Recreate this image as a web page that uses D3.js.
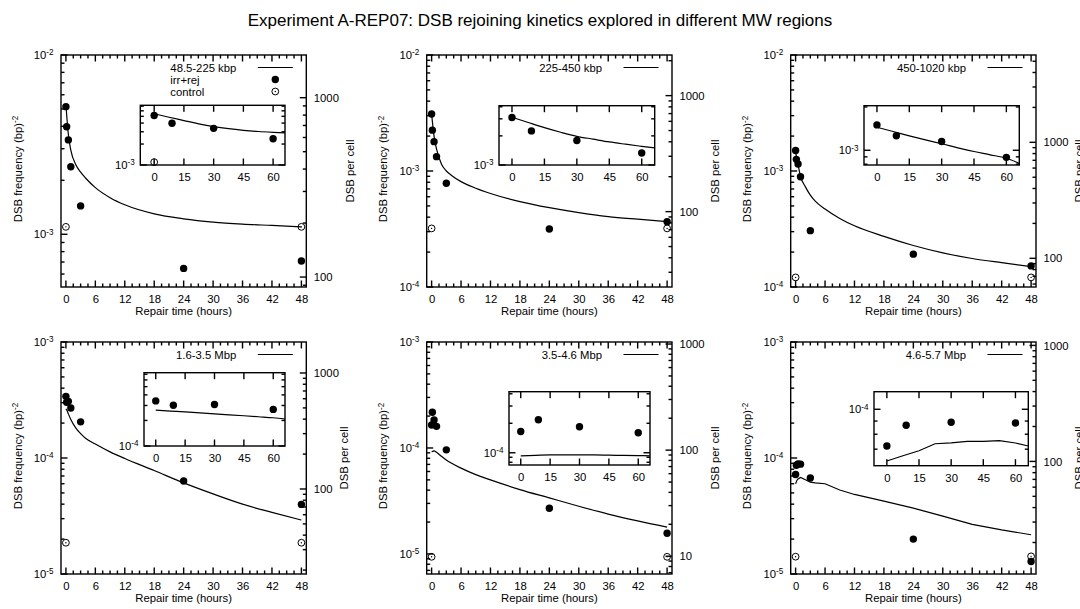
<!DOCTYPE html>
<html>
<head>
<meta charset="utf-8">
<script src="https://cdn.jsdelivr.net/npm/d3@7"></script>
<style>
  body { margin: 0; background: #fff; }
  svg { display: block; font-family: "Liberation Sans", Arial, Helvetica, sans-serif; }
</style>
</head>
<body>
<svg id="chart" width="1080" height="609"></svg>
<script>
// ---- values --------------------------------------------------------------
const chartTitle = "Experiment A-REP07: DSB rejoining kinetics explored in different MW regions";
const regionLabels = ["48.5-225 kbp", "225-450 kbp", "450-1020 kbp", "1.6-3.5 Mbp", "3.5-4.6 Mbp", "4.6-5.7 Mbp"];

// repair times of the irradiated samples (hours); the first four fall in the first hour
const sampleHours = [0, 0.15, 0.5, 1, 3, 24, 48];
const controlHours = [0, 48];
const mainXTicks = [0, 6, 12, 18, 24, 30, 36, 42, 48];
const insetXTicks = [0, 15, 30, 45, 60];

// DSB frequency (bp)^-2, irradiated + rejoining, one row per MW region
const irrRej = [
  [5.15e-3, 3.98e-3, 3.36e-3, 2.38e-3, 1.44e-3, 6.45e-4, 7.1e-4],
  [3.10e-3, 2.25e-3, 1.79e-3, 1.33e-3, 7.83e-4, 3.16e-4, 3.66e-4],
  [1.50e-3, 1.26e-3, 1.15e-3, 8.93e-4, 3.06e-4, 1.92e-4, 1.52e-4],
  [3.40e-4, 3.02e-4, 3.08e-4, 2.70e-4, 2.05e-4, 6.33e-5, 3.98e-5],
  [1.65e-4, 2.17e-4, 1.84e-4, 1.60e-4, 9.6e-5, 2.7e-5, 1.57e-5],
  [7.2e-5, 8.67e-5, 8.9e-5, 8.85e-5, 6.73e-5, 2.0e-5, 1.28e-5]
];
// unirradiated controls at 0 h and 48 h
const control = [
  [1.10e-3, 1.10e-3],
  [3.2e-4, 3.2e-4],
  [1.21e-4, 1.21e-4],
  [1.86e-5, 1.86e-5],
  [9.4e-6, 9.4e-6],
  [1.41e-5, 1.42e-5]
];

// fitted rejoining curves over 48 h
const fitHours = [0, 0.25, 0.5, 1, 2, 3, 4, 6, 9, 12, 18, 24, 30, 36, 42, 48];
const fitValues = [
  [5.3e-3, 4.3e-3, 3.6e-3, 2.95e-3, 2.45e-3, 2.22e-3, 2.06e-3, 1.82e-3, 1.6e-3, 1.46e-3, 1.3e-3, 1.22e-3, 1.17e-3, 1.14e-3, 1.12e-3, 1.10e-3],
  [3.1e-3, 2.45e-3, 2.0e-3, 1.55e-3, 1.15e-3, 1.0e-3, 9.2e-4, 8.1e-4, 7.1e-4, 6.4e-4, 5.45e-4, 4.83e-4, 4.38e-4, 4.05e-4, 3.84e-4, 3.66e-4],
  [1.45e-3, 1.28e-3, 1.13e-3, 9.0e-4, 7.3e-4, 6.2e-4, 5.5e-4, 4.7e-4, 3.9e-4, 3.37e-4, 2.73e-4, 2.28e-4, 1.97e-4, 1.76e-4, 1.62e-4, 1.50e-4],
  [2.65e-4, 2.55e-4, 2.4e-4, 2.15e-4, 1.82e-4, 1.62e-4, 1.48e-4, 1.32e-4, 1.13e-4, 9.9e-5, 7.8e-5, 6.1e-5, 4.9e-5, 4.0e-5, 3.4e-5, 2.92e-5],
  [9.2e-5, 9.3e-5, 9.4e-5, 9.1e-5, 8.35e-5, 7.7e-5, 7.2e-5, 6.45e-5, 5.6e-5, 5.0e-5, 4.05e-5, 3.38e-5, 2.82e-5, 2.38e-5, 2.05e-5, 1.79e-5],
  [6.0e-5, 6.4e-5, 6.6e-5, 6.8e-5, 6.5e-5, 6.2e-5, 6.1e-5, 6.0e-5, 5.3e-5, 4.85e-5, 4.25e-5, 3.7e-5, 3.15e-5, 2.68e-5, 2.4e-5, 2.18e-5]
];

// fitted curves over the first hour (minutes), shown in the insets
const insetFitMinutes = [0, 7.5, 15, 22.5, 30, 37.5, 45, 52.5, 60, 66];
const insetFitValues = [
  [5.45e-3, 4.85e-3, 4.35e-3, 3.9e-3, 3.56e-3, 3.32e-3, 3.15e-3, 3.03e-3, 2.95e-3, 2.9e-3],
  [3.12e-3, 2.75e-3, 2.43e-3, 2.18e-3, 1.98e-3, 1.85e-3, 1.73e-3, 1.64e-3, 1.56e-3, 1.50e-3],
  [1.445e-3, 1.35e-3, 1.26e-3, 1.18e-3, 1.11e-3, 1.04e-3, 9.8e-4, 9.3e-4, 8.8e-4, 8.1e-4],
  [2.65e-4, 2.58e-4, 2.52e-4, 2.45e-4, 2.39e-4, 2.33e-4, 2.27e-4, 2.21e-4, 2.15e-4, 2.08e-4],
  [9.3e-5, 9.4e-5, 9.5e-5, 9.5e-5, 9.5e-5, 9.5e-5, 9.45e-5, 9.4e-5, 9.35e-5, 9.3e-5],
  [6.3e-5, 6.6e-5, 6.9e-5, 7.35e-5, 7.4e-5, 7.5e-5, 7.5e-5, 7.55e-5, 7.4e-5, 7.2e-5]
];

// axis ranges
const mainXRange = [-1, 49];
const yRange = [[5.08e-4, 1e-2], [1e-4, 1e-2], [1e-4, 1e-2], [1e-5, 1e-3], [6.47e-6, 1e-3], [1e-5, 1e-3]];
const y2Range = [[88, 1730], [22.4, 2240], [56.6, 5660], [18.5, 1850], [6.8, 1045], [10.7, 1070]];
const insetXRange = [[-7, 66], [-6, 66], [-6, 66], [-6, 66], [-6, 66], [-6, 66]];
const insetYRange = [[1e-3, 7.2e-3], [1e-3, 4.1e-3], [7.9e-4, 2.04e-3], [1e-4, 7.3e-4], [7.5e-5, 4.2e-4], [6.04e-5, 1.17e-4]];

// ---- layout ---------------------------------------------------------------
const W = 1080, H = 609;
const colLeft = [61, 426.7, 790.7], colW = 245.3;
const rowTop = [55, 342], rowH = 232;
const insetBox = [
  [140.3, 105.3, 144.7, 59.7],
  [499, 105.7, 155.7, 59.3],
  [864, 105.7, 155.3, 59.3],
  [144, 372.7, 141, 73.3],
  [509, 391.7, 141, 73.3],
  [874, 391.7, 154.3, 74]
];
const rightLabelOffset = [44, 43.3, 43, 37.3, 43.3, 43];
const FS = 11.3;
const TICK_MAJOR = 6.5, TICK_MINOR = 3.5, TICK_W = 1.4;

const svg = d3.select("#chart");

svg.append("text")
  .attr("x", W / 2).attr("y", 25.5)
  .attr("text-anchor", "middle")
  .attr("font-size", 17)
  .attr("fill", "#000")
  .text(chartTitle);

// tick marks are collected here and drawn last, as small filled bars
const tickBars = [];

// ticks at 1..9 x 10^e inside a log domain
function logTicks(dom) {
  const out = [];
  const lo = dom[0], hi = dom[1];
  for (let e = Math.floor(Math.log10(lo)) - 1; e <= Math.ceil(Math.log10(hi)); e++) {
    for (let k = 1; k <= 9; k++) {
      const v = k * Math.pow(10, e);
      if (v >= lo * 0.9999 && v <= hi * 1.0001) out.push({ v: v, major: k === 1 });
    }
  }
  return out;
}

// tick labels through d3 axes
function axisLabels(parent, gen, transform, values, padding, fmt) {
  gen.tickValues(values).tickSize(0).tickPadding(padding).tickFormat(fmt);
  const g = parent.append("g").attr("transform", transform).call(gen);
  g.select(".domain").remove();
  g.selectAll(".tick line").remove();
  g.attr("font-size", null).attr("font-family", null).attr("fill", null);
  g.selectAll(".tick text").attr("fill", "#000").attr("font-size", FS);
  return g;
}

// inward tick marks along a frame edge
function tickMarks(scale, values, edge, pos, len) {
  values.forEach(v => {
    const c = +scale(v);
    if (!isFinite(c)) return;
    const h = TICK_W / 2;
    if (edge === "bottom") tickBars.push({ x: c - h, y: pos - len, w: TICK_W, h: len });
    else if (edge === "top") tickBars.push({ x: c - h, y: pos, w: TICK_W, h: len });
    else if (edge === "left") tickBars.push({ x: pos, y: c - h, w: len, h: TICK_W });
    else tickBars.push({ x: pos - len, y: c - h, w: len, h: TICK_W });
  });
}

// "10" with a superscript exponent
function powerLabel(textSel) {
  textSel.each(function (d) {
    const t = d3.select(this);
    const e = Math.round(Math.log10(d));
    t.text(null);
    t.append("tspan").text("10");
    t.append("tspan").attr("dy", "-0.45em").attr("font-size", "0.72em").text(String(e));
  });
}

function drawPoints(g, xs, ys, filled) {
  const pts = g.append("g");
  xs.forEach((xv, i) => {
    if (filled) {
      pts.append("circle").attr("cx", xv).attr("cy", ys[i]).attr("r", 3.7).attr("fill", "#000");
    } else {
      pts.append("circle").attr("cx", xv).attr("cy", ys[i]).attr("r", 3.4)
        .attr("fill", "none").attr("stroke", "#000").attr("stroke-width", 1);
      pts.append("circle").attr("cx", xv).attr("cy", ys[i]).attr("r", 0.7).attr("fill", "#000");
    }
  });
}

for (let p = 0; p < 6; p++) drawPanel(p);

svg.append("g").selectAll("rect").data(tickBars).join("rect")
  .attr("x", d => d.x).attr("y", d => d.y).attr("width", d => d.w).attr("height", d => d.h)
  .attr("fill", "#000");

function drawPanel(p) {
  const left = colLeft[p % 3], top = rowTop[Math.floor(p / 3)];
  const right = left + colW, bottom = top + rowH;
  const x = d3.scaleLinear().domain(mainXRange).range([left, right]);
  const y = d3.scaleLog().domain(yRange[p]).range([bottom, top]);
  const y2 = d3.scaleLog().domain(y2Range[p]).range([bottom, top]);
  const g = svg.append("g");

  // frame
  g.append("rect").attr("x", left).attr("y", top).attr("width", colW).attr("height", rowH)
    .attr("fill", "none").attr("stroke", "#000").attr("stroke-width", 1.4);

  // x axis: labelled bottom, mirrored top
  const minorX = d3.range(0, 48.01, 1.5).filter(v => v % 6 !== 0);
  axisLabels(g, d3.axisBottom(x), `translate(0,${bottom})`, mainXTicks, 7.8, d3.format("d"));
  tickMarks(x, mainXTicks, "bottom", bottom, TICK_MAJOR);
  tickMarks(x, minorX, "bottom", bottom, TICK_MINOR);
  tickMarks(x, mainXTicks, "top", top, TICK_MAJOR);
  tickMarks(x, minorX, "top", top, TICK_MINOR);

  // left log axis
  const lt = logTicks(yRange[p]);
  const lMaj = lt.filter(t => t.major).map(t => t.v), lMin = lt.filter(t => !t.major).map(t => t.v);
  const gl = axisLabels(g, d3.axisLeft(y), `translate(${left},0)`, lMaj, 7.5, () => "x");
  powerLabel(gl.selectAll(".tick text"));
  tickMarks(y, lMaj, "left", left, TICK_MAJOR);
  tickMarks(y, lMin, "left", left, TICK_MINOR);

  // right log axis: DSB per cell
  const rt = logTicks(y2Range[p]);
  const rMaj = rt.filter(t => t.major).map(t => t.v), rMin = rt.filter(t => !t.major).map(t => t.v);
  axisLabels(g, d3.axisRight(y2), `translate(${right},0)`, rMaj, 7.5, d3.format("d"));
  tickMarks(y2, rMaj, "right", right, TICK_MAJOR);
  tickMarks(y2, rMin, "right", right, TICK_MINOR);

  // axis titles
  g.append("text")
    .attr("transform", `translate(${(left + right) / 2},${bottom + 27.5})`)
    .attr("text-anchor", "middle").attr("font-size", FS).attr("fill", "#000")
    .text("Repair time (hours)");
  const yl = g.append("text")
    .attr("transform", `translate(${left - 39.5},${(top + bottom) / 2 - 2}) rotate(-90)`)
    .attr("text-anchor", "middle").attr("font-size", FS).attr("fill", "#000");
  yl.append("tspan").text("DSB frequency (bp)");
  yl.append("tspan").attr("dy", "-0.45em").attr("font-size", "0.72em").text("-2");
  g.append("text")
    .attr("transform", `translate(${right + rightLabelOffset[p] + 4},${(top + bottom) / 2}) rotate(-90)`)
    .attr("text-anchor", "middle").attr("font-size", FS).attr("fill", "#000")
    .text("DSB per cell");

  // fitted curve
  const line = d3.line().x((d, i) => x(fitHours[i])).y(d => y(d))
    .curve(p === 5 ? d3.curveLinear : d3.curveMonotoneX);
  g.append("path").datum(fitValues[p]).attr("d", line)
    .attr("fill", "none").attr("stroke", "#000").attr("stroke-width", 1.2);

  // data points
  drawPoints(g, controlHours.map(h => x(h)), control[p].map(v => y(v)), false);
  drawPoints(g, sampleHours.map(h => x(h)), irrRej[p].map(v => y(v)), true);

  // key
  const sx0 = right - 48.5, sx1 = right - 13.5, sxm = (sx0 + sx1) / 2;
  const ky = top + 12.5;
  const entries = p === 0 ? [regionLabels[p], "irr+rej", "control"] : [regionLabels[p]];
  const keyTexts = entries.map((s, i) => g.append("text")
    .attr("x", sx0 - 21.5).attr("y", ky + i * 12 + 4)
    .attr("font-size", FS).attr("fill", "#000").attr("text-anchor", "end").text(s));
  if (entries.length > 1) {
    const w0 = keyTexts[0].node().getComputedTextLength();
    keyTexts.forEach(t => t.attr("text-anchor", "start").attr("x", sx0 - 21.5 - w0));
    drawPoints(g, [sxm], [ky + 12], true);
    drawPoints(g, [sxm], [ky + 24], false);
  }
  g.append("line").attr("x1", sx0).attr("x2", sx1).attr("y1", ky).attr("y2", ky)
    .attr("stroke", "#000").attr("stroke-width", 1.2);

  drawInset(g, p);
}

function drawInset(parent, p) {
  const [bx, by, bw, bh] = insetBox[p];
  const ix = d3.scaleLinear().domain(insetXRange[p]).range([bx, bx + bw]);
  const iy = d3.scaleLog().domain(insetYRange[p]).range([by + bh, by]);
  const g = parent.append("g");
  g.append("rect").attr("x", bx).attr("y", by).attr("width", bw).attr("height", bh)
    .attr("fill", "#fff").attr("stroke", "#000").attr("stroke-width", 1.4);

  axisLabels(g, d3.axisBottom(ix), `translate(0,${by + bh})`, insetXTicks, 7.8, d3.format("d"));
  tickMarks(ix, insetXTicks, "bottom", by + bh, TICK_MAJOR);
  tickMarks(ix, insetXTicks, "top", by, TICK_MAJOR);
  const t = logTicks(insetYRange[p]);
  const maj = t.filter(d => d.major).map(d => d.v), mn = t.filter(d => !d.major).map(d => d.v);
  const gl = axisLabels(g, d3.axisLeft(iy), `translate(${bx},0)`, maj, 5.5, () => "x");
  powerLabel(gl.selectAll(".tick text"));
  tickMarks(iy, maj, "left", bx, TICK_MAJOR);
  tickMarks(iy, mn, "left", bx, TICK_MINOR);
  tickMarks(iy, maj, "right", bx + bw, TICK_MAJOR);
  tickMarks(iy, mn, "right", bx + bw, TICK_MINOR);

  const clipId = "inset-clip-" + p;
  g.append("clipPath").attr("id", clipId).append("rect")
    .attr("x", bx).attr("y", by).attr("width", bw).attr("height", bh);

  const line = d3.line().x((d, i) => ix(insetFitMinutes[i])).y(d => iy(d))
    .curve(p === 5 ? d3.curveLinear : d3.curveMonotoneX);
  g.append("path").datum(insetFitValues[p]).attr("d", line).attr("clip-path", `url(#${clipId})`)
    .attr("fill", "none").attr("stroke", "#000").attr("stroke-width", 1.2);

  const [ylo, yhi] = insetYRange[p];
  const inDom = v => v >= ylo && v <= yhi;
  const ctl = control[p].map((v, i) => ({ m: controlHours[i] * 60, v })).filter(d => d.m <= 66 && inDom(d.v));
  drawPoints(g, ctl.map(d => ix(d.m)), ctl.map(d => iy(d.v)), false);
  const first = sampleHours.map((h, i) => ({ m: h * 60, v: irrRej[p][i] })).filter(d => d.m <= 60 && inDom(d.v));
  drawPoints(g, first.map(d => ix(d.m)), first.map(d => iy(d.v)), true);
}
</script>
</body>
</html>
